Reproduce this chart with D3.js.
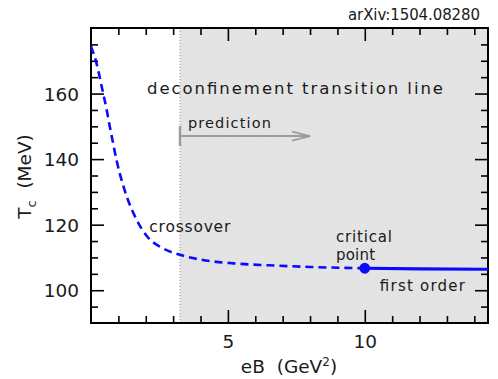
<!DOCTYPE html>
<html>
<head>
<meta charset="utf-8">
<script src="https://cdn.jsdelivr.net/npm/d3@7"></script>
<style>
  html, body { margin: 0; padding: 0; background: #fff; }
  svg { display: block; }
  text { font-family: "DejaVu Sans", "Liberation Sans", sans-serif; fill: #1a1a1a; white-space: pre; }
</style>
</head>
<body>
<svg id="chart" width="498" height="379"></svg>
<script>
// Pseudo-critical temperature vs magnetic field (crossover part, dashed)
const crossoverEB = [0, 0.19, 0.44, 0.56, 0.68, 0.78, 0.94, 1.18, 1.30, 1.66, 2.03, 2.58, 3.25, 4.04, 5.19, 6.5, 8.0, 10];
const crossoverTc = [174.4, 169.6, 160.2, 155.6, 150.2, 146.0, 139.4, 131.8, 128.7, 121.6, 116.6, 113.0, 110.8, 109.3, 108.2, 107.6, 107.1, 106.7];
// First-order part (solid), beyond the critical point
const firstOrderEB = [10, 12, 14.5];
const firstOrderTc = [106.7, 106.5, 106.4];
// Critical point
const criticalEB = [10];
const criticalTc = [106.7];
// Start of the shaded prediction region and end of the arrow
const predictionStart = 3.25;
const arrowEnd = 8.0;
const arrowTc = 147.05;

// Axis ranges and ticks
const xDomain = [0, 14.5];
const yDomain = [90, 180];
const xMajor = [5, 10];
const xMinor = d3.range(1, 15, 1).filter(v => !xMajor.includes(v));
const yMajor = [100, 120, 140, 160];
const yMinor = d3.range(95, 180, 5).filter(v => !yMajor.includes(v));

const plot = { left: 91, top: 28, right: 488, bottom: 323 };
const svg = d3.select("#chart");

const x = d3.scaleLinear().domain(xDomain).range([plot.left, plot.right]);
const y = d3.scaleLinear().domain(yDomain).range([plot.bottom, plot.top]);

// Shaded region with faint diagonal hatching
const defs = svg.append("defs");
const pat = defs.append("pattern")
  .attr("id", "hatch").attr("patternUnits", "userSpaceOnUse")
  .attr("width", 7).attr("height", 7)
  .attr("patternTransform", "rotate(45)");
pat.append("rect").attr("width", 7).attr("height", 7).attr("fill", "#e4e4e4");
pat.append("line").attr("x1", 0).attr("y1", 0).attr("x2", 0).attr("y2", 7)
  .attr("stroke", "#e0e0e0").attr("stroke-width", 1.2);

svg.append("rect")
  .attr("x", x(predictionStart)).attr("y", y(yDomain[1]))
  .attr("width", x(xDomain[1]) - x(predictionStart))
  .attr("height", y(yDomain[0]) - y(yDomain[1]))
  .attr("fill", "url(#hatch)");

// Dotted boundary of the shaded region
svg.append("line")
  .attr("x1", x(predictionStart)).attr("x2", x(predictionStart))
  .attr("y1", y(yDomain[0])).attr("y2", y(yDomain[1]))
  .attr("stroke", "#9a9a9a").attr("stroke-width", 1)
  .attr("stroke-dasharray", "1,2");

// Axes with inward ticks
function drawAxis(axisFn, values, size, transform, labels) {
  const g = svg.append("g").attr("transform", transform)
    .call(axisFn.tickValues(values).tickSizeInner(-size).tickSizeOuter(0)
      .tickFormat(labels ? d3.format("d") : () => ""));
  g.select(".domain").remove();
  g.selectAll(".tick line").attr("stroke", "#000").attr("stroke-width", 1.6);
  return g;
}
drawAxis(d3.axisBottom(x), xMinor, 7, `translate(0,${plot.bottom})`, false);
const xb = drawAxis(d3.axisBottom(x), xMajor, 13, `translate(0,${plot.bottom})`, true);
xb.selectAll("text").attr("y", 25).attr("dy", 0).attr("font-size", 18.5)
  .attr("font-family", "DejaVu Sans").attr("fill", "#1a1a1a");
drawAxis(d3.axisTop(x), xMinor, 7, `translate(0,${plot.top})`, false);
drawAxis(d3.axisTop(x), xMajor, 13, `translate(0,${plot.top})`, false);

drawAxis(d3.axisLeft(y), yMinor, 7, `translate(${plot.left},0)`, false);
const yl = drawAxis(d3.axisLeft(y), yMajor, 13, `translate(${plot.left},0)`, true);
yl.selectAll("text").attr("x", -12).attr("dy", "0.36em").attr("font-size", 18.5)
  .attr("font-family", "DejaVu Sans").attr("fill", "#1a1a1a");
drawAxis(d3.axisRight(y), yMinor, 7, `translate(${plot.right},0)`, false);
drawAxis(d3.axisRight(y), yMajor, 13, `translate(${plot.right},0)`, false);

// Frame
svg.append("rect")
  .attr("x", plot.left).attr("y", plot.top)
  .attr("width", plot.right - plot.left).attr("height", plot.bottom - plot.top)
  .attr("fill", "none").attr("stroke", "#000").attr("stroke-width", 2);

// Prediction arrow
const grey = "#9c9c9c";
svg.append("line")
  .attr("x1", x(predictionStart)).attr("x2", x(predictionStart))
  .attr("y1", y(arrowTc) - 10).attr("y2", y(arrowTc) + 10)
  .attr("stroke", grey).attr("stroke-width", 2.5);
svg.append("line")
  .attr("x1", x(predictionStart)).attr("x2", x(arrowEnd))
  .attr("y1", y(arrowTc)).attr("y2", y(arrowTc))
  .attr("stroke", grey).attr("stroke-width", 2);
svg.append("path")
  .attr("d", `M${x(arrowEnd) - 18},${y(arrowTc) - 4.5} L${x(arrowEnd)},${y(arrowTc)} L${x(arrowEnd) - 18},${y(arrowTc) + 4.5}`)
  .attr("fill", "none").attr("stroke", grey).attr("stroke-width", 1.8);

// Transition line
const line = d3.line().x(d => x(d[0])).y(d => y(d[1])).curve(d3.curveMonotoneX);
svg.append("path")
  .datum(d3.zip(crossoverEB, crossoverTc))
  .attr("d", line)
  .attr("fill", "none").attr("stroke", "#0a0aff").attr("stroke-width", 2.6)
  .attr("stroke-dasharray", "8,5");
svg.append("path")
  .datum(d3.zip(firstOrderEB, firstOrderTc))
  .attr("d", line)
  .attr("fill", "none").attr("stroke", "#0a0aff").attr("stroke-width", 3.2);
svg.selectAll("circle.cp")
  .data(d3.zip(criticalEB, criticalTc))
  .join("circle").attr("class", "cp")
  .attr("cx", d => x(d[0])).attr("cy", d => y(d[1])).attr("r", 5.4)
  .attr("fill", "#0a0aff");

// Annotations
function label(txt, vx, vt, size, len) {
  svg.append("text").attr("x", x(vx)).attr("y", y(vt))
    .attr("font-size", size).attr("textLength", len).attr("lengthAdjust", "spacing")
    .text(txt);
}
label("deconfinement transition line", 2.045, 159.9, 16.5, 296);
label("prediction", 3.54, 149.4, 14.5, 83);
label("crossover", 2.13, 117.85, 15.5, 81);
label("critical", 8.95, 114.8, 15, 56);
label("point", 8.95, 109.2, 15, 39);
label("first order", 10.55, 99.9, 15, 85);

// Source tag
svg.append("text").attr("x", 480).attr("y", 20)
  .attr("text-anchor", "end").attr("font-size", 15)
  .attr("textLength", 132).attr("lengthAdjust", "spacing")
  .text("arXiv:1504.08280");

// Axis titles
const xt = svg.append("text").attr("x", 289).attr("y", 373)
  .attr("text-anchor", "middle").attr("font-size", 18.5);
xt.append("tspan").text("eB\u00a0\u00a0(GeV");
xt.append("tspan").attr("font-size", 12).attr("dy", -7).text("2");
xt.append("tspan").attr("dy", 7).text(")");

const yt = svg.append("text")
  .attr("transform", `translate(31,${(plot.top + plot.bottom) / 2 + 1}) rotate(-90)`)
  .attr("text-anchor", "middle").attr("font-size", 18.5);
yt.append("tspan").text("T");
yt.append("tspan").attr("font-size", 13).attr("dy", 5).text("c");
yt.append("tspan").attr("dy", -5).text("\u00a0\u00a0(MeV)");
</script>
</body>
</html>
